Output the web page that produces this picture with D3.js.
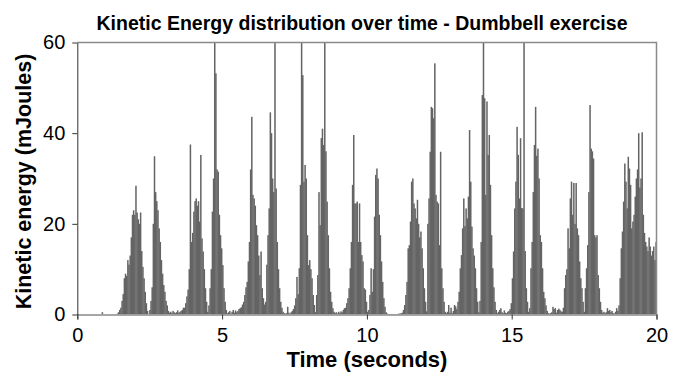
<!DOCTYPE html>
<html>
<head>
<meta charset="utf-8">
<script src="https://cdn.jsdelivr.net/npm/d3@7"></script>
<style>
  body { margin: 0; background: #fff; }
  svg { display: block; font-family: "Liberation Sans", Arial, sans-serif; }
</style>
</head>
<body>
<div id="chart"></div>
<script>
// one bar every 0.04 s, values in mJoules (bars above 60 are clipped by the plot)
const sampleStep = 0.04;

const energy0to5 = [
  0,0,0,0,0,0,0,0,0,0,
  0,0,0,0,0,0,0,0,0,0,
  0,0.5,0,0,0,0,0,0,0,0,
  0,0,0,0,0.2,0.5,1,1.5,3,4.5,
  8,9,8.5,12,11,13,17,22,23,22,
  28.4,22.5,21,20,22.5,14,10.5,8,5,2.5,
  0.8,0,1,3,6,20,34.9,27,25,23,
  19,16,12,9,6.5,5,3,2,0.8,0.4,
  0.6,0.3,0.8,0.5,0.3,0.5,0.9,0.4,0.6,0.8,
  1.0,1.5,1.5,2.5,4,5.5,10,37.5,16,18,
  22.7,25,25.6,24,25,20.5,35.2,16.8,13.9,10,
  5.8,2.8,0.6,2,5.8,10,22.7,30,66,53.2,
  32,31.5,22,17.5,14.6
];
const energy5to10 = [
  10.9,5.8,2.8,1,0.3,
  0.5,0.8,0.2,0.6,1.0,0.4,0.9,0.5,0.8,1.2,
  1.4,1.6,2.2,2.8,4.3,6,7.2,11.7,16,32,
  43.6,26.4,25.6,24,19.7,17.5,13,8.7,13.9,5.8,
  3.6,2.2,2.8,11,17.5,23.4,44.6,40,30,27,
  66,27.8,16,10,5.8,2.8,1.5,0.6,0.3,0.2,
  0.3,1.7,0.4,0.2,0.5,0.8,1.2,2,3.6,8.3,
  4.5,10.2,28.6,66,52.8,29.3,33,30,17.5,10.9,
  12,10,8,4.3,2.1,0.5,4.3,8.7,27,19.7,
  38.9,41,37.4,66,36,24.9,17.5,10.2,5,2.8,
  1.4,0.6,0.3,0.5,0.2,0.6,0.3,0.7,0.5,1.0,
  1.4,1.5,2.5,3.6,5.8,10.2,16,28.6,39.6,24.5,
  24.5,24.9,16,24.5,16,13.1,11.7,5.8,5.5,2.8
];
const energy10to15 = [
  0.6,1,4.3,10.2,5,10,21.6,30.8,32.2,30,
  22,17.5,11.7,7.2,3.6,1.7,0.5,0.2,0.1,0.1,
  0.1,0.1,0.1,0.1,0.1,0.1,0.1,0.2,0.2,0.3,
  0.4,1,2.1,4.3,7.2,14.6,15.3,20.5,29.3,30,
  24.5,23.4,21.2,25.3,20,17,18.3,14.6,10.2,5.8,
  2.8,0.7,20,25.6,35.9,45.8,45.5,43.3,55.4,26.4,
  24.9,24.5,15.3,35.9,10.2,5.8,2.8,0.6,0.3,0.6,
  2.1,0.4,1.5,0.3,0.8,2.1,1.8,1.2,2.8,5,
  10.2,13.1,19,25.6,19.5,23.4,21.2,26,40.7,29.3,
  19.4,14.6,13,10.2,5.8,2.8,0.5,3,16,48.4,
  66,47.7,26.4,47,35.2,39.6,28.6,17.5,10.2,6,
  2.8,1,0.3,0.6,1.0,1.4,0.5,0.3,0.9,0.4,
  0.3,0.6,0.8,1.2,2.5
];
const energy15to20 = [
  8,13.9,23.4,29.3,41.4,
  35.2,25.6,38.9,23.5,23.4,66,14,5.8,2.8,0.6,
  1.4,10.2,16,27,37.4,45.8,35,36.6,30,17.5,
  16,10.2,5,3.6,2,0.8,0.3,0.2,0.3,0.5,
  1.7,1.2,1.4,0.4,1.0,1.3,1.0,0.7,0.6,1.5,
  5.8,8.7,10,19,14.6,25.6,29.3,22,29,20,
  29,19,17.5,11.7,8,5.8,2.8,0.6,5.8,10.2,
  15.3,27,46.2,36.6,36,34.4,17.5,17,17.5,8.7,
  5.8,2.8,1,0.4,0.6,0.3,0.5,1.4,0.8,1.0,
  0.5,0.8,0.3,0.2,0.6,1.4,0.8,2,8,14.6,
  18.3,24.9,33.3,29.3,23.4,34.8,32.2,28.6,19,20.5,
  22,26,30,32,40,28,30,40.2,22,18,
  16,15,14,17,15,13,14,15,12,16
];

const xTicks = [0, 5, 10, 15, 20];
const yTicks = [0, 20, 40, 60];

const width = 684;
const height = 375;
const margin = {top: 42.5, right: 27.5, bottom: 60.5, left: 77.3};

const energy = [...energy0to5, ...energy5to10, ...energy10to15, ...energy15to20];
const data = energy.map((v, i) => ({t: i * sampleStep, v}));

const x = d3.scaleLinear([0, 20], [margin.left, width - margin.right]);
const y = d3.scaleLinear([0, 60], [height - margin.bottom, margin.top]);

const svg = d3.select('#chart').append('svg')
  .attr('width', width)
  .attr('height', height);

svg.append('rect')
  .attr('width', width).attr('height', height)
  .attr('fill', '#fff');

svg.append('clipPath')
  .attr('id', 'plot-clip')
  .append('rect')
  .attr('x', x(0)).attr('y', y(60))
  .attr('width', x(20) - x(0)).attr('height', y(0) - y(60));

// a little overlap so neighbouring bars don't leave white seams
const barW = x(sampleStep) - x(0) + 0.35;

svg.append('g')
  .attr('clip-path', 'url(#plot-clip)')
  .attr('fill', '#646464')
  .selectAll('rect')
  .data(data.filter(d => d.v > 0))
  .join('rect')
    .attr('x', d => x(d.t))
    .attr('width', barW)
    .attr('y', d => y(d.v))
    .attr('height', d => y(0) - y(d.v));

// plot area frame (top and right)
svg.append('path')
  .attr('d', `M${x(0)},${y(60)}H${x(20)}V${y(0)}`)
  .attr('fill', 'none')
  .attr('stroke', '#8a8a8a')
  .attr('stroke-width', 1.5);

// x axis
const xAxis = svg.append('g')
  .attr('transform', `translate(0,${y(0)})`)
  .call(d3.axisBottom(x).tickValues(xTicks).tickSize(5).tickPadding(8).tickFormat(d3.format('d')));
xAxis.select('.domain').attr('stroke', '#8a8a8a').attr('stroke-width', 1.5);
xAxis.selectAll('.tick line').attr('stroke', '#333');
xAxis.selectAll('text')
  .attr('font-size', 20)
  .attr('font-family', '"Liberation Sans", Arial, sans-serif')
  .attr('fill', '#000');

// y axis
const yAxis = svg.append('g')
  .attr('transform', `translate(${x(0)},0)`)
  .call(d3.axisLeft(y).tickValues(yTicks).tickSize(5).tickPadding(7).tickSizeOuter(0));
yAxis.select('.domain').attr('stroke', '#333');
yAxis.selectAll('.tick line').attr('stroke', '#333');
yAxis.selectAll('text')
  .attr('font-size', 20)
  .attr('font-family', '"Liberation Sans", Arial, sans-serif')
  .attr('fill', '#000');

svg.append('text')
  .attr('x', 362)
  .attr('y', 30)
  .attr('text-anchor', 'middle')
  .attr('font-weight', 'bold')
  .attr('font-size', 19.5)
  .text('Kinetic Energy distribution over time - Dumbbell exercise');

svg.append('text')
  .attr('x', (x(0) + x(20)) / 2)
  .attr('y', 367)
  .attr('text-anchor', 'middle')
  .attr('font-weight', 'bold')
  .attr('font-size', 22)
  .text('Time (seconds)');

svg.append('text')
  .attr('transform', `translate(31,${(y(0) + y(60)) / 2 + 3}) rotate(-90)`)
  .attr('text-anchor', 'middle')
  .attr('font-weight', 'bold')
  .attr('font-size', 21.5)
  .text('Kinetic energy (mJoules)');
</script>
</body>
</html>
